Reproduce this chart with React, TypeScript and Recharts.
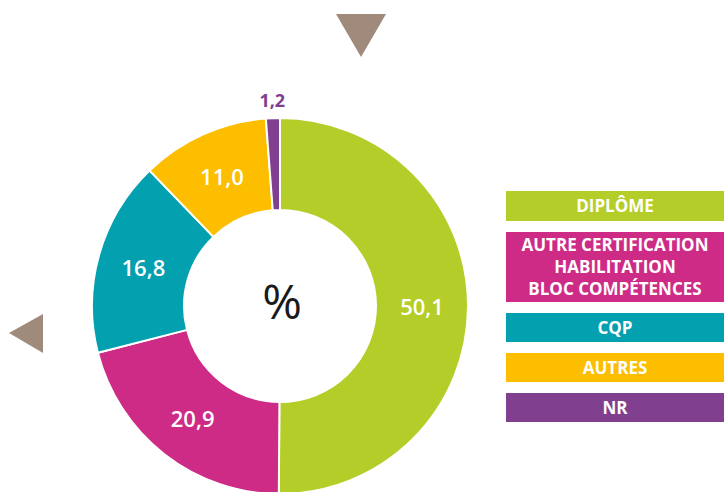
import { PieChart, Pie, Cell } from 'recharts'

const CATEGORIES = ['DIPLÔME', 'AUTRE CERTIFICATION\nHABILITATION\nBLOC COMPÉTENCES', 'CQP', 'AUTRES', 'NR']
const VALUES = [50.1, 20.9, 16.8, 11.0, 1.2]
const COLORS = ['#b5cd28', '#ce2b87', '#03a0b0', '#fdbe00', '#81408f']
const CENTER_TEXT = '%'

const FONT = '"Open Sans", sans-serif'
const RADIAN = Math.PI / 180

const data = CATEGORIES.map((name, i) => ({ name, value: VALUES[i], color: COLORS[i] }))

const fmt = (v: number) => v.toFixed(1).replace('.', ',')

function renderLabel(props: any) {
  const { cx, cy, midAngle, innerRadius, outerRadius, value, index } = props
  const small = value < 3
  const r = small ? outerRadius + 18 : (innerRadius + outerRadius) / 2
  const x = cx + r * Math.cos(-midAngle * RADIAN)
  const y = cy + r * Math.sin(-midAngle * RADIAN)
  return (
    <g>
      {index === 0 && (
        <text
          x={cx + 2}
          y={cy - 6}
          textAnchor="middle"
          dominantBaseline="central"
          fill="#1a1a1a"
          fontFamily={FONT}
          fontWeight={500}
          fontSize={48}
        >
          {CENTER_TEXT}
        </text>
      )}
      <text
        x={x}
        y={y}
        textAnchor="middle"
        dominantBaseline="central"
        fill={small ? COLORS[index] : '#fff'}
        fontFamily={FONT}
        fontWeight={small ? 700 : 600}
        fontSize={small ? 18 : 22}
      >
        {fmt(value)}
      </text>
    </g>
  )
}

function LegendBoxes() {
  const heights = [30, 70, 29, 29, 29]
  return (
    <div style={{ position: 'absolute', left: 506, top: 191, width: 218, fontFamily: FONT }}>
      {data.map((d, i) => (
        <div
          key={i}
          style={{
            background: d.color,
            height: heights[i],
            marginBottom: 11,
            color: '#fff',
            fontWeight: 700,
            fontSize: 17,
            lineHeight: '22px',
            display: 'flex',
            flexDirection: 'column',
            justifyContent: 'center',
            alignItems: 'center',
            textAlign: 'center',
          }}
        >
          {d.name.split('\n').map((line, j) => (
            <div key={j} style={{ whiteSpace: 'nowrap' }}>{line}</div>
          ))}
        </div>
      ))}
    </div>
  )
}

export default function App() {
  return (
    <div style={{ position: 'absolute', left: 0, top: 0, width: 724, height: 492, background: '#fff', overflow: 'hidden' }}>
      <PieChart width={724} height={492} margin={{ top: 0, right: 0, bottom: 0, left: 0 }}>
        <Pie
          data={data}
          dataKey="value"
          nameKey="name"
          cx={280}
          cy={306}
          innerRadius={96}
          outerRadius={188}
          startAngle={90}
          endAngle={-270}
          stroke="#fff"
          strokeWidth={2}
          label={renderLabel}
          labelLine={false}
          isAnimationActive={false}
        >
          {data.map((d, i) => (
            <Cell key={i} fill={d.color} />
          ))}
        </Pie>
      </PieChart>
      <LegendBoxes />
      <svg width={724} height={492} style={{ position: 'absolute', left: 0, top: 0, pointerEvents: 'none' }}>
        <polygon points="336,14 386,14 361,57" fill="#a08a7c" />
        <polygon points="43,314 43,353 9,333" fill="#a08a7c" />
      </svg>
    </div>
  )
}
